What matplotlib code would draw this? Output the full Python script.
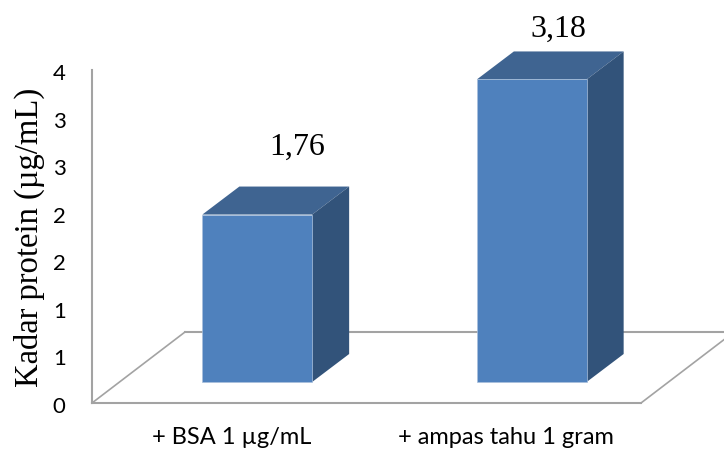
import matplotlib
matplotlib.use("Agg")
import matplotlib.pyplot as plt
from matplotlib.patches import Polygon
from matplotlib.transforms import Affine2D

categories = ['+ BSA 1 µg/mL', '+ ampas tahu 1 gram']
values = [1.76, 3.18]
value_labels = ['1,76', '3,18']
y_ticks = [0, 0.5, 1, 1.5, 2, 2.5, 3, 3.5]
y_tick_labels = ['0', '1', '1', '2', '2', '3', '3', '4']

W, H = 724, 451
GREY = '#A3A3A3'
FRONT = '#4F81BD'
TOP = '#3F6491'
SIDE = '#32537A'


def main():
	fig = plt.figure(figsize=(W / 100, H / 100), dpi=100)
	# Axes box is the front edge of the floor and the left wall
	ax = fig.add_axes([92 / W, 1 - 403 / H, (641 - 92) / W, (403 - 70) / H])
	ax.set_xlim(-0.5, 1.5)
	ax.set_ylim(0, 3.5)

	for s in ['top', 'right']:
		ax.spines[s].set_visible(False)
	for s in ['left', 'bottom']:
		ax.spines[s].set_color(GREY)
		ax.spines[s].set_linewidth(1.5)

	# Fake 3D: pixel shifts on top of the data transform
	floor = ax.transData + Affine2D().translate(93, 71)
	ax.plot([-0.5, 1.5], [0, 0], color=GREY, lw=1.5, transform=floor, clip_on=False, zorder=1)
	for x in [-0.5, 1.5]:
		start = ax.transData.transform((x, 0))
		end = floor.transform((x, 0))
		fig.add_artist(plt.Line2D([start[0] / W, end[0] / W], [start[1] / H, end[1] / H],
			color=GREY, lw=1.2, zorder=1))

	bar_tr = ax.transData + Affine2D().translate(28, 21)
	depth = Affine2D().translate(37, 28)
	width = 0.4
	for i, v in enumerate(values):
		x0, x1 = i - width / 2, i + width / 2
		p = [bar_tr.transform(q) for q in [(x0, 0), (x1, 0), (x1, v), (x0, v)]]
		bl, br, tr, tl = p
		d = depth.transform
		ax.add_patch(Polygon([tl, tr, d(tr), d(tl)], transform=None, fc=TOP, ec='none', clip_on=False, zorder=3))
		ax.add_patch(Polygon([br, d(br), d(tr), tr], transform=None, fc=SIDE, ec='none', clip_on=False, zorder=3))
		ax.add_patch(Polygon([bl, br, tr, tl], transform=None, fc=FRONT, ec='#A9C0DC', lw=0.5, clip_on=False, zorder=4))

	# Data labels sit free of the bars, each one placed by hand
	shifts = [(40, 67), (27, 50)]
	for i, v in enumerate(values):
		ax.text(i, v, value_labels[i], family='Liberation Serif', fontsize=23, ha='center', va='center',
			color='black', clip_on=False,
			transform=bar_tr + Affine2D().translate(*shifts[i]))

	ax.set_yticks(y_ticks)
	ax.set_yticklabels(y_tick_labels, family='Lato', fontsize=16, color='black')
	ax.set_xticks([0, 1])
	ax.set_xticklabels(categories, family='Lato', fontsize=17, color='black')
	ax.tick_params(axis='both', length=0)
	ax.tick_params(axis='y', pad=19)
	ax.tick_params(axis='x', pad=17)
	for label in ax.get_yticklabels():
		label.set_transform(label.get_transform() + Affine2D().translate(0, -2))
	for label in ax.get_xticklabels():
		label.set_transform(label.get_transform() + Affine2D().translate(2, 0))

	fig.text(29 / W, 1 - 237 / H, 'Kadar protein (µg/mL)', family='Liberation Serif', fontsize=23.5,
		rotation=90, ha='center', va='center', color='black')

	fig.savefig('out.png', dpi=100, facecolor='white')


if __name__ == "__main__":
	main()
